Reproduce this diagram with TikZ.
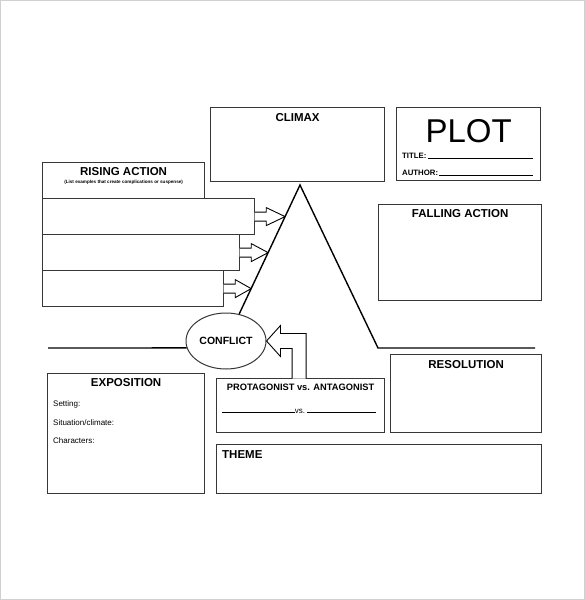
\documentclass[tikz,border=0pt]{standalone}
\usepackage{fontspec}
\setmainfont{Liberation Sans}
\usepackage{tikz}
\usetikzlibrary{shapes.geometric,positioning,calc}
\definecolor{inkgray}{RGB}{55,55,55}
\definecolor{framegray}{RGB}{208,208,208}

\tikzset{
  panel/.style={draw=inkgray, line width=1.2pt, anchor=north west, inner sep=0pt},
  heading/.style={font=\bfseries\fontsize{11.5}{13}\selectfont, inner sep=0pt},
  field/.style={font=\fontsize{8}{9}\selectfont, inner sep=0pt, anchor=base west},
  boldfield/.style={font=\bfseries\fontsize{7.8}{9}\selectfont, inner sep=0pt, anchor=base west},
  plotline/.style={line width=1.4pt, line join=miter},
  blockarrow/.style={draw=black, fill=white, line width=0.9pt},
}

\begin{document}
\begin{tikzpicture}[x=1pt,y=-1pt]
   \useasboundingbox (0,0) rectangle (585,600);
   \filldraw[fill=white, draw=framegray, line width=1pt] (0.5,0.5) rectangle (584.5,599.5);

   \node[panel, minimum width=174pt, minimum height=74pt] (climax) at (210,107) {};
   \node[panel, minimum width=144pt, minimum height=73pt] (plot) at (396,107) {};
   \node[panel, minimum width=162pt, minimum height=36pt] (rising) at (42,162) {};
   \node[panel, minimum width=212pt, minimum height=36pt] (row1) at (42,198) {};
   \node[panel, minimum width=197pt, minimum height=36pt] (row2) at (42,234) {};
   \node[panel, minimum width=181pt, minimum height=36pt] (row3) at (42,270) {};
   \node[panel, minimum width=163pt, minimum height=96pt] (falling) at (378,204) {};
   \node[panel, minimum width=157pt, minimum height=120pt] (expo) at (47,373) {};
   \node[panel, minimum width=168pt, minimum height=54pt] (protag) at (216,378) {};
   \node[panel, minimum width=151pt, minimum height=78pt] (resol) at (390,354) {};
   \node[panel, minimum width=325pt, minimum height=49pt] (theme) at (216,444) {};
   \node[draw=inkgray, line width=1pt, ellipse, minimum width=80pt, minimum height=56pt, inner sep=0pt,
         font=\bfseries\fontsize{10.5}{12}\selectfont] (conflict) at (226,341) {CONFLICT};

   \coordinate (apex) at (300,185);
   \coordinate (foot) at (378,348);
   \coordinate (rightend) at (535,348);
   \coordinate (leftend) at (48,348);

   \foreach \r in {1,2,3}
     \coordinate (hit\r) at (intersection of apex--conflict.64 and row\r.east--row\r.west);
   \foreach \r in {1,2,3}
     \filldraw[blockarrow] ($(hit\r -| row\r.east)+(-0.6,-4.5)$) -- ++(11.6,0) -- ++(0,-4.5) -- (hit\r)
       -- ($(hit\r -| row\r.east)+(11,9)$) -- ++(0,-4.5) -- ++(-11.6,0);
   \filldraw[blockarrow] ($(protag.north)+(-8.5,0.6)$) |- ($(conflict.east)+(14,7.5)$) -- ++(0,8)
     -- (conflict.east) -- ++(14,-15.5) -- ++(0,8) -| ($(protag.north)+(5.5,0.6)$);

   \draw[plotline] (conflict.64) -- (apex) -- (foot) -- (rightend);
   \draw[plotline] (leftend) -- (conflict.190);

   \node[heading] (climaxtxt) at ($(climax.north)+(0,11)$) {CLIMAX};
   \node[inner sep=0pt, font=\fontsize{33}{36}\selectfont] (plottxt) at ($(plot.north)+(0,24.5)$) {PLOT};
   \node[boldfield] (titletxt) at (402,158) {TITLE:\,\rule[-0.6pt]{105pt}{0.7pt}};
   \node[boldfield] (authortxt) at (402,175) {AUTHOR:\,\rule[-0.6pt]{94pt}{0.7pt}};
   \node[heading] (risingtxt) at ($(rising.north)+(0,10)$) {RISING ACTION};
   \node[inner sep=0pt, font=\bfseries\fontsize{4.6}{5}\selectfont] (risingnote) at ($(rising.north)+(0,20)$)
     {(List examples that create complications or suspense)};
   \node[heading] (fallingtxt) at ($(falling.north)+(0,9.5)$) {FALLING ACTION};
   \node[heading] (expotxt) at ($(expo.north)+(0,10)$) {EXPOSITION};
   \node[field] (setting) at (53,406) {Setting:};
   \node[field] (situation) at (53,425) {Situation/climate:};
   \node[field] (characters) at (53,443) {Characters:};
   \node[heading, font=\bfseries\fontsize{9.3}{11}\selectfont] (protagtxt) at ($(protag.north)+(0,9)$)
     {PROTAGONIST vs. ANTAGONIST};
   \node[field, anchor=base] (vsline) at ($(protag.north)+(-1.5,35)$) {\rule{73pt}{0.7pt}vs.\ \rule{69pt}{0.7pt}};
   \node[heading] (resoltxt) at ($(resol.north)+(0,11)$) {RESOLUTION};
   \node[heading, anchor=west] (themetxt) at ($(theme.north west)+(6,11)$) {THEME};
\end{tikzpicture}
\end{document}
